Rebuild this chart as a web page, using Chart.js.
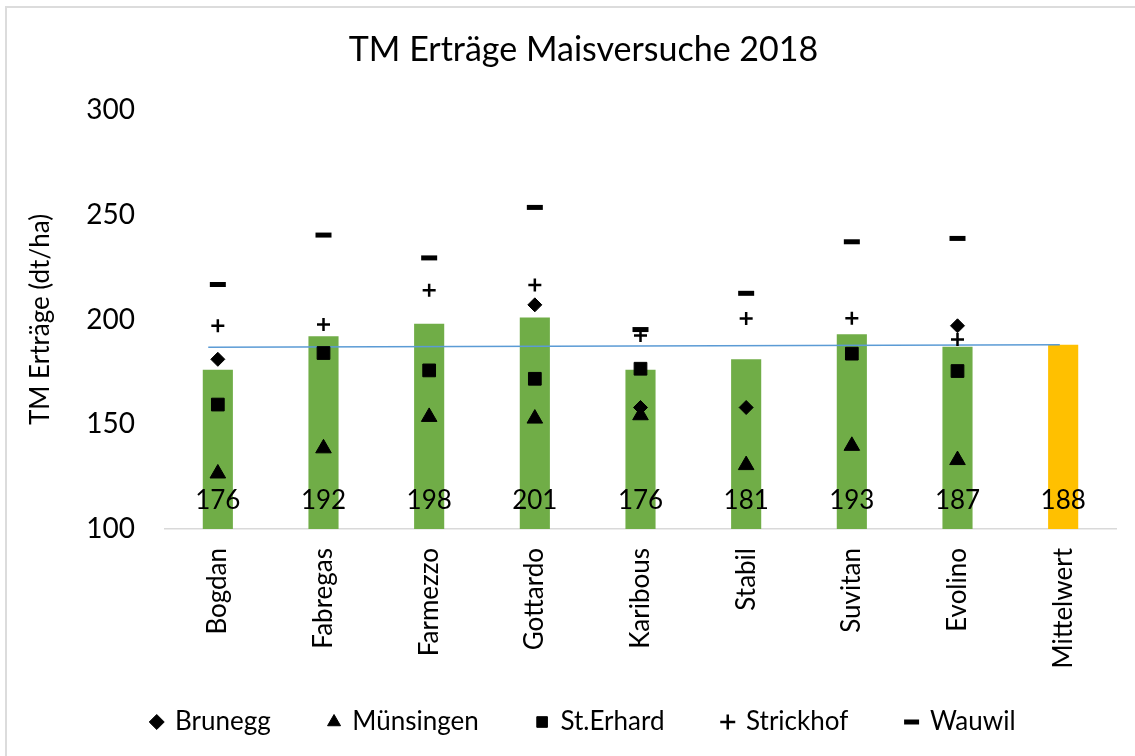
<!DOCTYPE html>
<html>
<head>
<meta charset="utf-8">
<title>TM Erträge Maisversuche 2018</title>
<script src="https://cdn.jsdelivr.net/npm/chart.js@4"></script>
<style>
  body { margin: 0; background: #fff; overflow: hidden; }
  #frame { position: absolute; left: 5px; top: 6px; width: 1200px; height: 800px; border: 2px solid #dcdcdc; }
  #chart { position: absolute; left: 0; top: 0; }
</style>
</head>
<body>
<div id="frame"></div>
<canvas id="chart" width="1135" height="756"></canvas>
<script>
// Sorten und Mittelwerte (dt/ha)
const sorten = ['Bogdan', 'Fabregas', 'Farmezzo', 'Gottardo', 'Karibous', 'Stabil', 'Suvitan', 'Evolino', 'Mittelwert'];
const mittel = [176, 192, 198, 201, 176, 181, 193, 187, 188];

// Erträge der einzelnen Standorte
const brunegg    = [181, null, null, 207, 158, 158, null, 197, null];
const muensingen = [126.5, 138.5, 153.5, 152.7, 154.3, 130.5, 139.7, 132.9, null];
const stErhard   = [159.4, 184, 175.7, 171.7, 176.5, null, 183.7, 175.4, null];
const strickhof  = [197, 197.6, 214, 216.5, 192.4, 200.5, 200.6, 190.5, null];
const wauwil     = [216.7, 240.3, 229.4, 253.5, 195.2, 212.5, 237.1, 238.7, null];

// Mittelwert-Linie (Anfang / Ende)
const linieX = [0, 0.985];
const linieY = [186.8, 188];

Chart.defaults.font.family = 'Lato, "Open Sans", sans-serif';
Chart.defaults.color = '#000';

function marker(label, data, style, radius, width) {
  return {
    type: 'line',
    label: label,
    data: data,
    showLine: false,
    pointStyle: style,
    pointRadius: radius,
    pointHoverRadius: radius,
    pointBorderWidth: width,
    pointBackgroundColor: '#000',
    pointBorderColor: '#000',
    backgroundColor: '#000',
    borderColor: '#000',
    borderWidth: width,
    order: 0
  };
}

// Werte unten in die Balken schreiben
const balkenWerte = {
  id: 'balkenWerte',
  afterDatasetsDraw(chart) {
    const ctx = chart.ctx;
    const meta = chart.getDatasetMeta(5);
    const y = chart.scales.y.bottom - 28;
    ctx.save();
    ctx.font = '26px Lato';
    ctx.fillStyle = '#000';
    ctx.textAlign = 'center';
    ctx.textBaseline = 'middle';
    meta.data.forEach((bar, i) => {
      ctx.fillText(String(mittel[i]), bar.x, y);
    });
    ctx.restore();
  }
};

// Legende etwas näher an die Achsenbeschriftung (Box nach oben erweitern)
const legendeHoch = {
  id: 'legendeHoch',
  afterLayout(chart) {
    chart.legend.top -= 28;
  }
};

new Chart(document.getElementById('chart'), {
  type: 'bar',
  data: {
    labels: sorten,
    datasets: [
      marker('Brunegg', brunegg, 'rectRot', 7, 1),
      marker('Münsingen', muensingen, 'triangle', 9, 1),
      marker('St.Erhard', stErhard, 'rect', 9, 1),
      marker('Strickhof', strickhof, 'cross', 6.5, 2.5),
      marker('Wauwil', wauwil, 'line', 8, 5),
      {
        type: 'bar',
        label: 'Mittel',
        data: mittel,
        backgroundColor: mittel.map((v, i) => i === mittel.length - 1 ? '#FFC000' : '#70AD47'),
        barPercentage: 0.285,
        categoryPercentage: 1,
        grouped: false,
        order: 3
      },
      {
        type: 'line',
        label: 'Mittelwert',
        data: linieX.map((x, i) => ({ x: x, y: linieY[i] })),
        xAxisID: 'xLinie',
        borderColor: '#5B9BD5',
        borderWidth: 1.5,
        pointRadius: 0,
        order: 2
      }
    ]
  },
  options: {
    responsive: false,
    animation: false,
    layout: { padding: { left: 51, right: 19, top: 0, bottom: 11 } },
    plugins: {
      title: {
        display: true,
        text: 'TM Erträge Maisversuche 2018',
        font: { size: 34, weight: 'normal' },
        color: '#000',
        padding: { top: 29.6, bottom: 39.6 }
      },
      legend: {
        position: 'bottom',
        maxHeight: 66,
        labels: {
          usePointStyle: true,
          boxWidth: 10.6,
          boxHeight: 10.6,
          padding: 58,
          font: { size: 26 },
          color: '#000',
          filter: item => item.datasetIndex < 5
        }
      },
      tooltip: { enabled: false }
    },
    scales: {
      x: {
        type: 'category',
        offset: true,
        grid: { display: false, drawTicks: false },
        border: { display: true, color: '#d9d9d9', width: 1.5 },
        ticks: { minRotation: 90, maxRotation: 90, autoSkip: false, padding: 19, font: { size: 26 }, color: '#000' },
        afterFit: s => { s.height = 150; }
      },
      xLinie: { type: 'linear', axis: 'x', position: 'bottom', display: false, min: 0, max: 1 },
      y: {
        min: 100,
        max: 300,
        ticks: { stepSize: 50, padding: 30, font: { size: 28 }, color: '#000' },
        grid: { display: false, drawTicks: false },
        border: { display: false },
        title: {
          display: true,
          text: 'TM Erträge (dt/ha)',
          font: { size: 26 },
          color: '#000',
          padding: { top: -25.6, bottom: 0 }
        },
        afterFit: s => { s.width = 114; }
      }
    }
  },
  plugins: [balkenWerte, legendeHoch]
});
</script>
</body>
</html>
